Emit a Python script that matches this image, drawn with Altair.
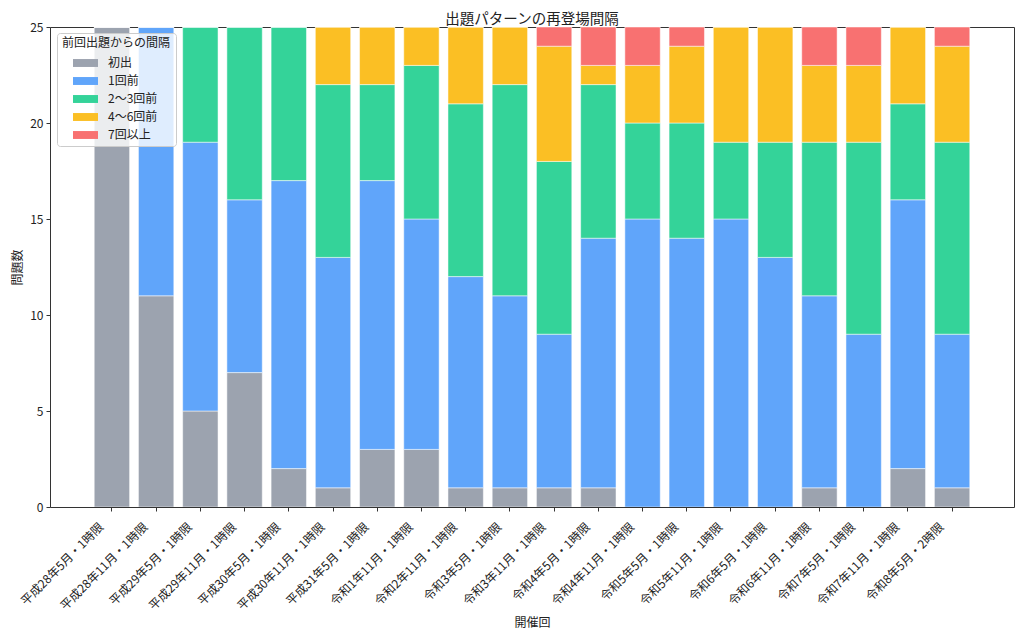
import altair as alt
import pandas as pd

sessions = [
    "平成28年5月・1時限", "平成28年11月・1時限", "平成29年5月・1時限", "平成29年11月・1時限",
    "平成30年5月・1時限", "平成30年11月・1時限", "平成31年5月・1時限", "令和1年11月・1時限",
    "令和2年11月・1時限", "令和3年5月・1時限", "令和3年11月・1時限", "令和4年5月・1時限",
    "令和4年11月・1時限", "令和5年5月・1時限", "令和5年11月・1時限", "令和6年5月・1時限",
    "令和6年11月・1時限", "令和7年5月・1時限", "令和7年11月・1時限", "令和8年5月・2時限",
]
categories = ["初出", "1回前", "2〜3回前", "4〜6回前", "7回以上"]
colors = ["#9ca3af", "#60a5fa", "#34d399", "#fbbf24", "#f87171"]

first_time = [25, 11, 5, 7, 2, 1, 3, 3, 1, 1, 1, 1, 0, 0, 0, 0, 1, 0, 2, 1]
prev_1 = [0, 14, 14, 9, 15, 12, 14, 12, 11, 10, 8, 13, 15, 14, 15, 13, 10, 9, 14, 8]
prev_2_3 = [0, 0, 6, 9, 8, 9, 5, 8, 9, 11, 9, 8, 5, 6, 4, 6, 8, 10, 5, 10]
prev_4_6 = [0, 0, 0, 0, 0, 3, 3, 2, 4, 3, 6, 1, 3, 4, 6, 6, 4, 4, 4, 5]
prev_7_plus = [0, 0, 0, 0, 0, 0, 0, 0, 0, 0, 1, 2, 2, 1, 0, 0, 2, 2, 0, 1]

series = [first_time, prev_1, prev_2_3, prev_4_6, prev_7_plus]
rows = []
for k, (cat, vals) in enumerate(zip(categories, series)):
    for s, v in zip(sessions, vals):
        rows.append({"開催回": s, "区分": cat, "k": k, "問題数": v})
df = pd.DataFrame(rows)

FONT = "Noto Sans CJK JP"

chart = alt.Chart(df).mark_bar(stroke="white", strokeWidth=0.5, clip=True).encode(
    x=alt.X("開催回:N", sort=sessions,
            scale=alt.Scale(paddingInner=0.2, paddingOuter=1.0),
            axis=alt.Axis(title="開催回", labelAngle=-45, labelAlign="right",
                          labelBaseline="top", labelOffset=-14, labelPadding=10,
                          titleY=110, titleBaseline="top")),
    y=alt.Y("問題数:Q", stack="zero",
            scale=alt.Scale(domain=[0, 25], nice=False),
            axis=alt.Axis(title="問題数", values=[0, 5, 10, 15, 20, 25],
                          titlePadding=5, labelPadding=3)),
    color=alt.Color("区分:N",
                    scale=alt.Scale(domain=categories, range=colors),
                    legend=alt.Legend(
                        title="前回出題からの間隔", orient="none",
                        legendX=7, legendY=6,
                        symbolType="M-1.39,-0.44H1.39V0.44H-1.39Z", symbolSize=324,
                        symbolStrokeWidth=0, symbolOffset=14.5, labelOffset=13.5,
                        rowPadding=3, padding=5, titlePadding=4,
                        fillColor="rgba(255,255,255,0.8)", strokeColor="#cccccc",
                        cornerRadius=3, labelFontSize=12, titleFontSize=12,
                        titleFontWeight="normal", titleColor="#222", labelColor="#222",
                    )),
    order=alt.Order("k:Q", sort="ascending"),
).properties(
    width=964, height=480,
    title=alt.TitleParams("出題パターンの再登場間隔", fontSize=14.5, fontWeight="normal",
                          color="#222", offset=6, dy=12),
    autosize=alt.AutoSizeParams(type="none"),
    padding={"left": 42, "top": 19, "right": 2, "bottom": 122},
).configure(
    font=FONT,
).configure_view(
    stroke="#333333", strokeWidth=1,
).configure_axis(
    grid=False, domain=False, tickColor="#333333", tickSize=4,
    labelFontSize=12, titleFontSize=12, labelColor="#222", titleColor="#222",
    titleFontWeight="normal",
)

chart.save("out.html", embed_options={"renderer": "svg", "actions": False})
